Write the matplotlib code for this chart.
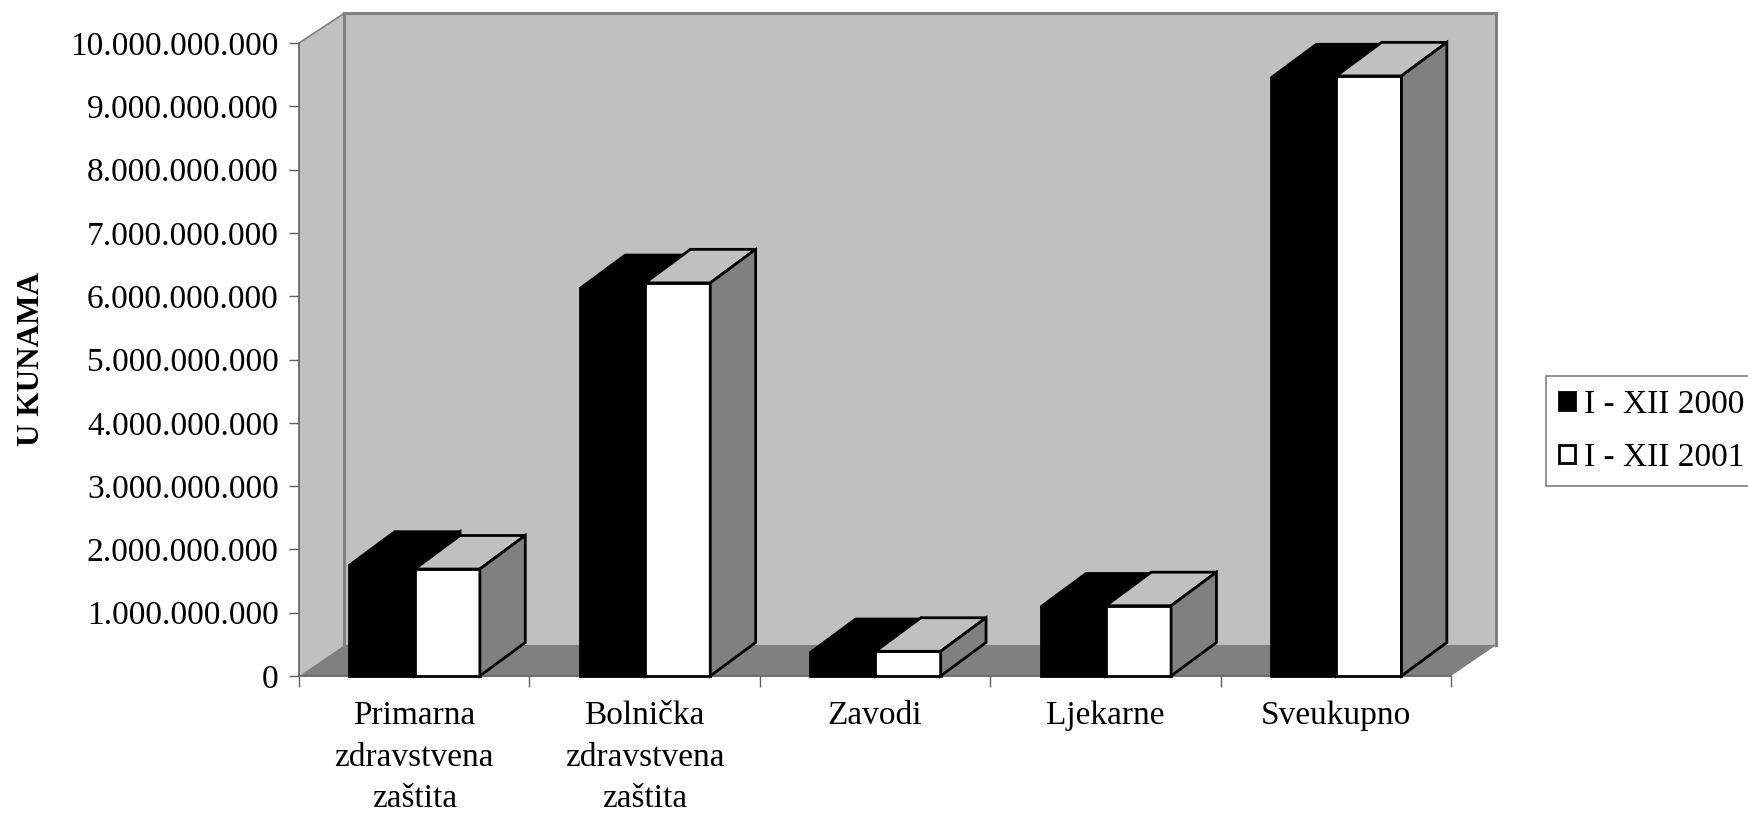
#!/usr/bin/env python
"""Costs per health care level, 3D look column chart."""
import matplotlib
matplotlib.use('Agg')
import matplotlib.pyplot as plt
from matplotlib.patches import Patch, Polygon

categories = ['Primarna\nzdravstvena\nzaštita', 'Bolnička\nzdravstvena\nzaštita',
              'Zavodi', 'Ljekarne', 'Sveukupno']
values_2000 = [1.75e9, 6.12e9, 0.37e9, 1.09e9, 9.45e9]
values_2001 = [1.69e9, 6.21e9, 0.39e9, 1.11e9, 9.48e9]
series_names = ['I - XII 2000', 'I - XII 2001']
y_ticks = [i * 1e9 for i in range(11)]
y_labels = ['0', '1.000.000.000', '2.000.000.000', '3.000.000.000',
            '4.000.000.000', '5.000.000.000', '6.000.000.000', '7.000.000.000',
            '8.000.000.000', '9.000.000.000', '10.000.000.000']

W, H = 1749, 814
LIGHT = '#c0c0c0'
DARK = '#808080'

# Depth of the box in data units (x: categories, y: kuna).
wall_dx, wall_dy = 0.197, 0.49e9
wall_top = 9.98e9
bar_dx, bar_dy = 0.197, 0.53e9
bar_w = 0.283
gap = 0.219

plt.rcParams['font.family'] = ['Liberation Serif', 'DejaVu Serif']

fig = plt.figure(figsize=(W / 100, H / 100), dpi=100)
ax = fig.add_axes([299 / W, (H - 676) / H, 1152 / W, 633 / H])
ax.set_xlim(0, 5)
ax.set_ylim(0, 10e9)


def poly(points, face, edge='none', lw=0, zorder=1):
    ax.add_patch(Polygon(points, closed=True, facecolor=face, edgecolor=edge,
                         linewidth=lw, joinstyle='miter', clip_on=False,
                         zorder=zorder))


top = 10e9
# Walls and floor
poly([(0, 0), (wall_dx, wall_dy), (wall_dx, wall_top + wall_dy), (0, top)], LIGHT)
poly([(wall_dx, wall_dy), (5 + wall_dx, wall_dy), (5 + wall_dx, wall_top + wall_dy),
      (wall_dx, wall_top + wall_dy)], LIGHT)
poly([(0, 0), (5, 0), (5 + wall_dx, wall_dy), (wall_dx, wall_dy)], DARK)
ax.plot([wall_dx, wall_dx, 5 + wall_dx, 5 + wall_dx],
        [wall_dy, wall_top + wall_dy, wall_top + wall_dy, wall_dy],
        color=DARK, lw=2.2, clip_on=False, zorder=2, solid_joinstyle='miter')
ax.plot([0, wall_dx], [top, wall_top + wall_dy], color=DARK, lw=1.2, clip_on=False,
        zorder=2)
ax.plot([0, 0], [0, top], color='#606060', lw=1.2, clip_on=False, zorder=2)
ax.plot([0, 5], [0, 0], color='#606060', lw=1.2, clip_on=False, zorder=2)

# Columns
for i, (v0, v1) in enumerate(zip(values_2000, values_2001)):
    x0 = i + gap
    x1 = x0 + bar_w
    x2 = x1 + bar_w
    for (xa, xb, v, front, side, topc, z) in [
            (x0, x1, v0, 'black', 'black', 'black', 3),
            (x1, x2, v1, 'white', DARK, LIGHT, 4)]:
        poly([(xa, 0), (xb, 0), (xb, v), (xa, v)], front, 'black', 2, z)
        poly([(xa, v), (xb, v), (xb + bar_dx, v + bar_dy), (xa + bar_dx, v + bar_dy)],
             topc, 'black', 2, z)
        poly([(xb, 0), (xb + bar_dx, bar_dy), (xb + bar_dx, v + bar_dy), (xb, v)],
             side, 'black', 2, z)

for s in ax.spines.values():
    s.set_visible(False)
ax.patch.set_visible(False)

ax.set_yticks(y_ticks)
ax.set_yticklabels(y_labels, fontsize=24)
ax.tick_params(axis='y', length=7.5, width=1, color='#606060', pad=7)
ax.set_xticks(range(6))
ax.set_xticklabels([])
ax.tick_params(axis='x', which='major', length=8, width=1, color='#606060')
ax.set_xticks([i + 0.5 for i in range(5)], minor=True)
ax.set_xticklabels(categories, minor=True, fontsize=24, linespacing=1.48)
ax.tick_params(axis='x', which='minor', length=0, pad=17.5)

fig.text(31.5 / W, (H - 359) / H, 'U KUNAMA', rotation=90, fontsize=22.5,
         fontweight='bold', ha='center', va='center')

handles = [Patch(facecolor='black', edgecolor='black', linewidth=2),
           Patch(facecolor='white', edgecolor='black', linewidth=2)]
leg = fig.legend(handles, series_names, loc='upper left',
                 bbox_to_anchor=(1546 / W, (H - 376) / H), fontsize=24,
                 frameon=True, fancybox=False, edgecolor=DARK, framealpha=1,
                 borderpad=0.4, handlelength=0.47, handleheight=0.47,
                 handletextpad=0.28, labelspacing=0.68, borderaxespad=0)
leg.get_frame().set_linewidth(1.2)

fig.savefig('out.png', dpi=100)
